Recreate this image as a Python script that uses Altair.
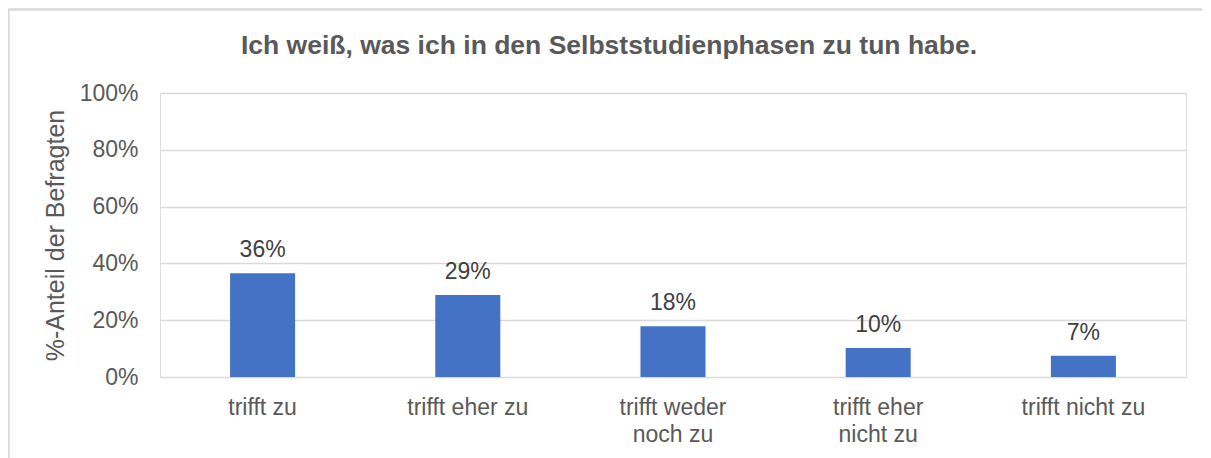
import altair as alt
import pandas as pd

categories = ["trifft zu", "trifft eher zu", "trifft weder\nnoch zu", "trifft eher\nnicht zu", "trifft nicht zu"]
values = [0.365, 0.289, 0.179, 0.102, 0.075]
value_labels = ["36%", "29%", "18%", "10%", "7%"]
y_ticks = [0, 0.2, 0.4, 0.6, 0.8, 1.0]

title_text = "Ich weiß, was ich in den Selbststudienphasen zu tun habe."
y_title = "%-Anteil der Befragten"

df = pd.DataFrame({"cat": categories, "val": values, "lab": value_labels})

FONT = "Liberation Sans"
GRAY = "#595959"
W, H = 1026, 284

x_enc = alt.X(
    "cat:N",
    sort=categories,
    scale=alt.Scale(paddingInner=0.683, paddingOuter=0.3415),
    axis=alt.Axis(
        title=None,
        labelAngle=0,
        labelExpr="split(datum.value, '\\n')",
        labelFont=FONT,
        labelFontSize=23,
        labelColor=GRAY,
        labelLineHeight=27,
        labelPadding=19,
        ticks=False,
        domain=False,
        grid=False,
    ),
)

y_enc = alt.Y(
    "val:Q",
    scale=alt.Scale(domain=[0, 1], nice=False, zero=True),
    axis=alt.Axis(
        title=y_title,
        values=y_ticks,
        format=".0%",
        labelFont=FONT,
        labelFontSize=23,
        labelColor=GRAY,
        labelPadding=22,
        ticks=False,
        domain=False,
        grid=True,
        gridColor="#D9D9D9",
        gridWidth=1.5,
        titleFont=FONT,
        titleFontSize=25,
        titleFontWeight="normal",
        titleColor=GRAY,
        titleAngle=270,
        titleAlign="center",
        titleBaseline="alphabetic",
        titleX=-97,
        titleY=142,
    ),
)

base = alt.Chart(df)

bars = base.mark_bar(color="#4472C4").encode(x=x_enc, y=y_enc)

texts = base.mark_text(
    font=FONT, fontSize=23, color="#404040", baseline="alphabetic", dy=-16
).encode(x=alt.X("cat:N", sort=categories), y=alt.Y("val:Q"), text="lab:N")

frame = base.mark_rect(
    fill=None, stroke="#D9D9D9", strokeWidth=1.5, clip=False
).encode(
    x=alt.value(-151.5), x2=alt.value(W + 60),
    y=alt.value(-83.5), y2=alt.value(H + 120),
)

title_mark = alt.Chart(pd.DataFrame({"t": [title_text]})).mark_text(
    font=FONT, fontSize=26.5, fontWeight="bold", color=GRAY,
    baseline="alphabetic", align="center"
).encode(x=alt.value(449), y=alt.value(-39.5), text="t:N")

chart = alt.layer(frame, bars, texts, title_mark).properties(
    width=W, height=H,
    autosize=alt.AutoSizeParams(type="none"),
    padding={"left": 152, "top": 85, "right": 16, "bottom": 81},
).configure_view(stroke=None).configure(background="white")

chart.save("out.html", embed_options={"renderer": "svg", "actions": False})
